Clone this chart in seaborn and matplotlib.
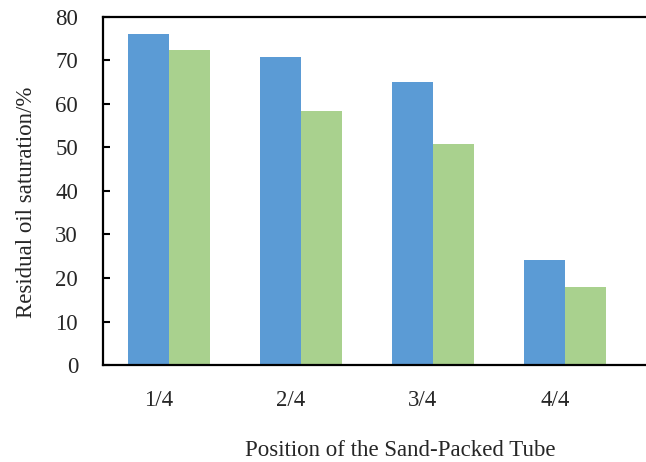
import matplotlib
matplotlib.use('Agg')
import matplotlib.pyplot as plt
import matplotlib.transforms as mtransforms
import seaborn as sns
import pandas as pd

# data
positions = ['1/4', '2/4', '3/4', '4/4']
series_a = [76.2, 70.9, 65.0, 24.1]
series_b = [72.4, 58.4, 50.8, 17.9]
series_names = ['Series 1', 'Series 2']
colors = ['#5B9BD5', '#A9D18E']

df = pd.DataFrame({
    'position': positions * 2,
    'value': series_a + series_b,
    'series': [series_names[0]] * 4 + [series_names[1]] * 4,
})

sns.set_style('white')
plt.rcParams['font.family'] = ['Liberation Serif', 'DejaVu Serif']

fig = plt.figure(figsize=(6.46, 4.62), dpi=100)
ax = fig.add_axes([103 / 646, 1 - 365 / 462, 1 - 103 / 646, 348 / 462])

sns.barplot(data=df, x='position', y='value', hue='series', palette=colors,
            width=0.62, saturation=1, legend=False, ax=ax, linewidth=0)

ax.set_ylim(0, 80)
ax.set_yticks(range(0, 81, 10))
ax.set_xlim(-0.5, 3.614)

for side in ['left', 'top', 'bottom']:
    ax.spines[side].set_color('black')
    ax.spines[side].set_linewidth(1.6)
ax.spines['right'].set_visible(False)

fs = 16.5
ax.tick_params(axis='y', direction='in', length=5, width=1.5, color='black',
               labelsize=fs, pad=18, left=True)
ax.tick_params(axis='x', length=0, labelsize=fs, pad=18)

# category labels sit a little left of the bar pairs
offset = mtransforms.ScaledTranslation(-0.1, 0, fig.dpi_scale_trans)
for lbl in ax.get_xticklabels():
    lbl.set_transform(lbl.get_transform() + offset)

ax.set_xlabel('Position of the Sand-Packed Tube', fontsize=fs)
ax.set_ylabel('Residual oil saturation/%', fontsize=fs)
ax.xaxis.set_label_coords(0.547, -0.215)
ax.yaxis.set_label_coords(-0.122, 0.468)

fig.savefig('out.png', dpi=100)
